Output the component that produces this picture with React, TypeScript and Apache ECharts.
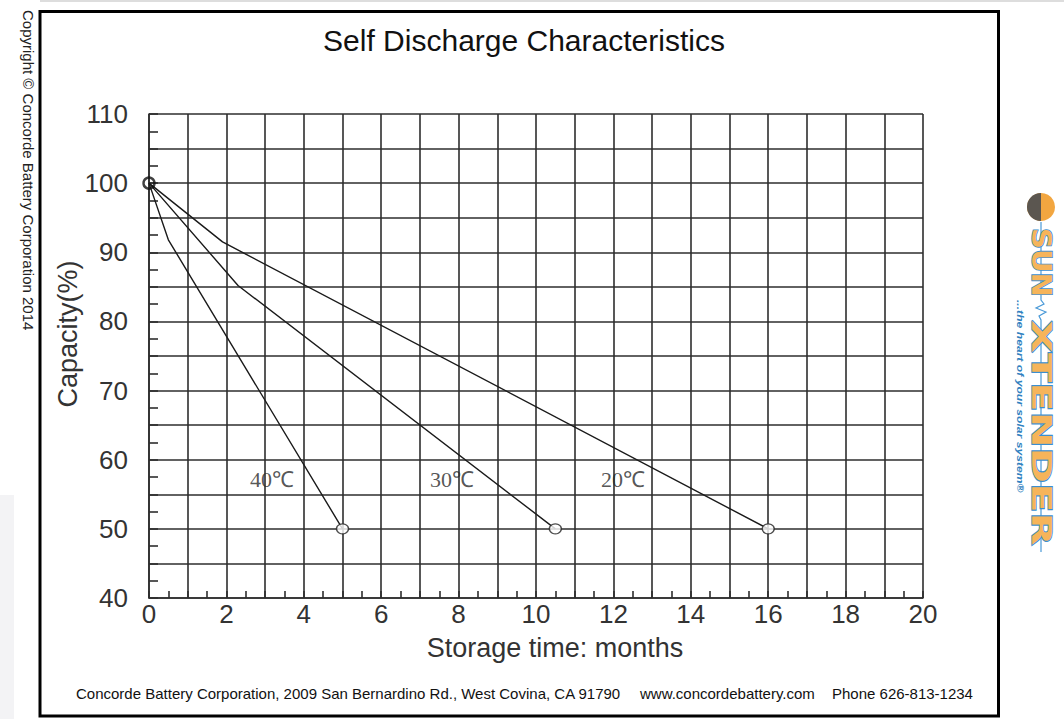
import React, { useEffect, useRef } from "react";
import * as echarts from "echarts";

// Data
const xTicks = [0, 2, 4, 6, 8, 10, 12, 14, 16, 18, 20];
const yTicks = [40, 50, 60, 70, 80, 90, 100, 110];
const curve40: [number, number][] = [[0, 100], [0.5, 91.8], [5, 50]];
const curve30: [number, number][] = [[0, 100], [2.3, 85.2], [10.5, 50]];
const curve20: [number, number][] = [[0, 100], [1.9, 91.5], [16, 50]];
const startPoint: [number, number][] = [[0, 100]];
const endPoints: [number, number][] = [[5, 50], [10.5, 50], [16, 50]];
const tempLabels = ["40℃", "30℃", "20℃"];
const tempLabelPos: [number, number][] = [[3.18, 57.1], [7.83, 57.1], [12.25, 57.1]];

const SANS = "'Liberation Sans', Arial, Helvetica, sans-serif";

export default function App() {
  const ref = useRef<HTMLDivElement>(null);
  useEffect(() => {
    if (!ref.current) return;
    const chart = echarts.init(ref.current, undefined, { renderer: "svg" });
    const lineStyle = { color: "#1a1a1a", width: 1.4 };
    const gridLine = { color: "#2e2e2e", width: 1.6 };
    chart.setOption({
      animation: false,
      backgroundColor: "#fff",
      grid: { left: 149, top: 114, right: 141, bottom: 121 },
      xAxis: {
        type: "value",
        min: 0,
        max: 20,
        interval: 1,
        axisLine: { show: true, lineStyle: gridLine },
        axisTick: { show: true, inside: true, length: 7, lineStyle: gridLine },
        minorTick: { show: true, splitNumber: 2, length: 7, lineStyle: gridLine },
        splitLine: { show: true, lineStyle: gridLine },
        axisLabel: {
          margin: 3,
          fontSize: 26,
          color: "#333",
          fontFamily: SANS,
          formatter: (v: number) => (xTicks.includes(v) ? String(v) : ""),
        },
      },
      yAxis: {
        type: "value",
        min: 40,
        max: 110,
        interval: 5,
        axisLine: { show: true, lineStyle: gridLine },
        axisTick: { show: true, inside: true, length: 9, lineStyle: gridLine },
        minorTick: { show: true, splitNumber: 2, length: 9, lineStyle: gridLine },
        splitLine: { show: true, lineStyle: gridLine },
        axisLabel: {
          margin: 21,
          fontSize: 26,
          color: "#333",
          fontFamily: SANS,
          formatter: (v: number) => (yTicks.includes(v) ? String(v) : ""),
        },
      },
      series: [
        { type: "line", data: curve40, symbol: "none", lineStyle, z: 3 },
        { type: "line", data: curve30, symbol: "none", lineStyle, z: 3 },
        { type: "line", data: curve20, symbol: "none", lineStyle, z: 3 },
        {
          type: "scatter",
          data: endPoints,
          symbol: "circle",
          symbolSize: [12, 10],
          itemStyle: { color: "#fff", borderColor: "#222", borderWidth: 1.3 },
          z: 4,
        },
        {
          type: "scatter",
          data: startPoint,
          symbol: "circle",
          symbolSize: 11,
          itemStyle: { color: "rgba(255,255,255,0)", borderColor: "#111", borderWidth: 2.4 },
          z: 4,
        },
        {
          type: "scatter",
          data: tempLabels.map((t, i) => ({ name: t, value: tempLabelPos[i] })),
          symbolSize: 0,
          label: {
            show: true,
            position: "inside",
            formatter: "{b}",
            fontSize: 22,
            color: "#2a2a2a",
            fontFamily: "'Liberation Serif', 'Times New Roman', serif",
          },
          z: 5,
        },
      ],
      graphic: [
        { type: "line", shape: { x1: 40, y1: 1, x2: 1064, y2: 1 }, style: { stroke: "#ddd", lineWidth: 2 } },
        { type: "rect", shape: { x: 0, y: 495, width: 14, height: 224 }, style: { fill: "#f3f3f5" } },
        {
          type: "rect",
          shape: { x: 40, y: 11.5, width: 958.5, height: 704.5 },
          style: { fill: "none", stroke: "#000", lineWidth: 3 },
        },
        {
          type: "text",
          x: 524,
          y: 40,
          style: {
            text: "Self Discharge Characteristics",
            fontSize: 30,
            fontFamily: SANS,
            fill: "#111",
            align: "center",
            verticalAlign: "middle",
          },
        },
        {
          type: "text",
          x: 555,
          y: 648,
          style: {
            text: "Storage time: months",
            fontSize: 27,
            fontFamily: SANS,
            fill: "#333",
            align: "center",
            verticalAlign: "middle",
          },
        },
        {
          type: "text",
          x: 68,
          y: 334,
          rotation: Math.PI / 2,
          style: {
            text: "Capacity(%)",
            fontSize: 27,
            fontFamily: SANS,
            fill: "#333",
            align: "center",
            verticalAlign: "middle",
          },
        },
        {
          type: "text",
          x: 28,
          y: 10,
          rotation: -Math.PI / 2,
          style: {
            text: "Copyright © Concorde Battery Corporation 2014",
            fontSize: 15,
            fontFamily: SANS,
            fill: "#222",
            align: "left",
            verticalAlign: "middle",
          },
        },
        {
          type: "text",
          x: 76,
          y: 693,
          style: {
            text: "Concorde Battery Corporation, 2009 San Bernardino Rd., West Covina, CA 91790",
            fontSize: 15,
            fontFamily: SANS,
            fill: "#111",
            align: "left",
            verticalAlign: "middle",
          },
        },
        {
          type: "text",
          x: 640,
          y: 693,
          style: { text: "www.concordebattery.com", fontSize: 15, fontFamily: SANS, fill: "#111", align: "left", verticalAlign: "middle" },
        },
        {
          type: "text",
          x: 832,
          y: 693,
          style: { text: "Phone 626-813-1234", fontSize: 15, fontFamily: SANS, fill: "#111", align: "left", verticalAlign: "middle" },
        },
        // Logo (rotated)
        { type: "circle", shape: { cx: 1041, cy: 207, r: 14 }, style: { fill: "#f2a640" } },
        {
          type: "sector",
          shape: { cx: 1041, cy: 207, r: 14, r0: 0, startAngle: Math.PI / 2, endAngle: (3 * Math.PI) / 2, clockwise: true },
          style: { fill: "#5b5650" },
        },
        {
          type: "polyline",
          shape: {
            points: [
              [1041, 222], [1041, 300], [1044, 304], [1036, 308], [1046, 312], [1039, 316], [1041, 320], [1041, 552],
            ],
          },
          style: { stroke: "#4a9ad8", lineWidth: 1.2, fill: "none" },
        },
        {
          type: "text",
          x: 1041,
          y: 228,
          rotation: -Math.PI / 2,
          scaleX: 1.12,
          style: {
            text: "SUN",
            fontSize: 26,
            fontWeight: "bold",
            fontFamily: "'DejaVu Sans', sans-serif",
            fill: "#f6b45a",
            stroke: "#3a8fd0",
            lineWidth: 1.5,
            align: "left",
            verticalAlign: "middle",
          },
        },
        {
          type: "text",
          x: 1041,
          y: 320,
          rotation: -Math.PI / 2,
          scaleX: 1.65,
          style: {
            text: "XTENDER",
            fontSize: 26,
            fontWeight: "bold",
            fontFamily: "'DejaVu Sans', sans-serif",
            fill: "#f6b45a",
            stroke: "#3a8fd0",
            lineWidth: 1.5,
            align: "left",
            verticalAlign: "middle",
          },
        },
        {
          type: "text",
          x: 1020,
          y: 300,
          rotation: -Math.PI / 2,
          scaleX: 1.35,
          style: {
            text: "...the heart of your solar system®",
            fontSize: 9,
            fontStyle: "italic",
            fontWeight: "bold",
            fontFamily: SANS,
            fill: "#2f7fc0",
            align: "left",
            verticalAlign: "middle",
          },
        },
      ],
    });
    return () => chart.dispose();
  }, []);
  return <div ref={ref} style={{ position: "fixed", left: 0, top: 0, width: 1064, height: 719 }} />;
}
